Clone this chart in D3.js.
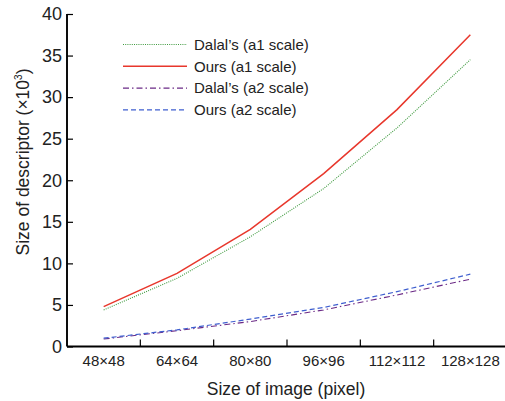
<!DOCTYPE html>
<html>
<head>
<meta charset="utf-8">
<script src="https://cdn.jsdelivr.net/npm/d3@7"></script>
<style>
  html, body { margin: 0; padding: 0; background: #fff; }
  svg { display: block; font-family: Arial, "Liberation Sans", sans-serif; }
</style>
</head>
<body>
<svg></svg>
<script>
const width = 505;
const height = 401;

// image sizes along the x axis
const sizes = ["48×48", "64×64", "80×80", "96×96", "112×112", "128×128"];

// descriptor size (x10^3) for each series
const dalalA1 = [4.4, 8.2, 13.2, 19.0, 26.3, 34.5];
const oursA1 = [4.8, 8.8, 14.1, 20.8, 28.5, 37.5];
const dalalA2 = [0.9, 1.9, 3.0, 4.4, 6.2, 8.1];
const oursA2 = [1.0, 2.0, 3.3, 4.7, 6.6, 8.7];

const yTicks = [0, 5, 10, 15, 20, 25, 30, 35, 40];

const series = [
  { name: "Dalal’s (a1 scale)", values: dalalA1, color: "#3f9a3f", dash: "1,1.2", w: 1.1 },
  { name: "Ours (a1 scale)", values: oursA1, color: "#e8372c", dash: null, w: 1.5 },
  { name: "Dalal’s (a2 scale)", values: dalalA2, color: "#6b2a86", dash: "6,3,1.5,3", w: 1.1 },
  { name: "Ours (a2 scale)", values: oursA2, color: "#3f5fcf", dash: "5,3", w: 1.2 }
];

const plotLeft = 67;
const plotRight = 507;
const plotTop = 14;
const plotBottom = 346.5;
const fontFam = "Arial, 'Liberation Sans', sans-serif";

let svg = d3.select("svg").attr("width", width).attr("height", height);

const x = d3.scaleBand().domain(sizes).range([plotLeft, plotRight]).padding(0);
const y = d3.scaleLinear().domain([0, 40]).range([plotBottom, plotTop]);

// x axis: labels centred on bands, ticks on band edges pointing up
const xAxis = svg.append("g")
  .attr("transform", "translate(0," + plotBottom + ")")
  .call(d3.axisBottom(x).tickSize(0).tickPadding(9))
  .attr("font-family", fontFam)
  .attr("font-size", 15);
xAxis.select(".domain").remove();
xAxis.selectAll("text").attr("fill", "#222");

svg.append("g")
  .selectAll("line")
  .data(sizes.slice(1))
  .enter()
  .append("line")
  .attr("x1", (d) => x(d))
  .attr("x2", (d) => x(d))
  .attr("y1", plotBottom)
  .attr("y2", plotBottom - 7)
  .attr("stroke", "#000")
  .attr("stroke-width", 1.2);

// y axis with inward ticks
const yAxis = svg.append("g")
  .attr("transform", "translate(" + plotLeft + ",0)")
  .call(d3.axisLeft(y).tickValues(yTicks).tickSize(-6).tickPadding(5))
  .attr("font-family", fontFam)
  .attr("font-size", 18);
yAxis.select(".domain").remove();
yAxis.selectAll("line").attr("stroke", "#000").attr("stroke-width", 1.2);
yAxis.selectAll("text").attr("fill", "#222");

// axis lines
svg.append("line")
  .attr("x1", plotLeft).attr("x2", plotLeft)
  .attr("y1", plotTop).attr("y2", plotBottom)
  .attr("stroke", "#000").attr("stroke-width", 1.9);
svg.append("line")
  .attr("x1", plotLeft).attr("x2", width)
  .attr("y1", plotBottom).attr("y2", plotBottom)
  .attr("stroke", "#000").attr("stroke-width", 1.9);

// series lines
const line = d3.line()
  .x((d, i) => x(sizes[i]) + x.bandwidth() / 2)
  .y((d) => y(d));

series.forEach((s) => {
  svg.append("path")
    .datum(s.values)
    .attr("d", line)
    .attr("fill", "none")
    .attr("stroke", s.color)
    .attr("stroke-width", s.w)
    .attr("stroke-dasharray", s.dash);
});

// legend
const legend = svg.append("g");
series.forEach((s, i) => {
  const ly = 44.5 + i * 21.8;
  legend.append("line")
    .attr("x1", 123).attr("x2", 187)
    .attr("y1", ly).attr("y2", ly)
    .attr("stroke", s.color)
    .attr("stroke-width", s.w)
    .attr("stroke-dasharray", s.dash);
  legend.append("text")
    .attr("x", 194).attr("y", ly)
    .attr("dy", "0.35em")
    .attr("font-size", 15)
    .attr("fill", "#222")
    .text(s.name);
});

// axis titles
svg.append("text")
  .attr("x", 286).attr("y", 395)
  .attr("text-anchor", "middle")
  .attr("font-size", 17.5)
  .attr("fill", "#222")
  .text("Size of image (pixel)");

const yTitle = svg.append("text")
  .attr("transform", "translate(29,162) rotate(-90)")
  .attr("text-anchor", "middle")
  .attr("font-size", 17.5)
  .attr("fill", "#222");
yTitle.append("tspan").text("Size of descriptor (×10");
yTitle.append("tspan").attr("font-size", 10).attr("dy", -7).text("3");
yTitle.append("tspan").attr("dy", 7).text(")");
</script>
</body>
</html>
